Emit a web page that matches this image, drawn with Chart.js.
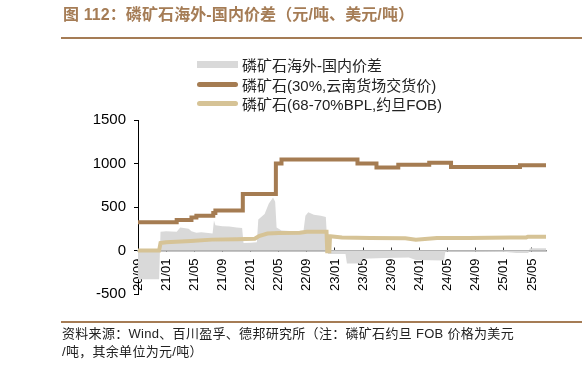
<!DOCTYPE html>
<html>
<head>
<meta charset="utf-8">
<script src="https://cdn.jsdelivr.net/npm/chart.js@4.4.0/dist/chart.umd.min.js"></script>
<style>
  body { margin: 0; width: 582px; height: 372px; position: relative; background: #fff; overflow: hidden;
         font-family: "Liberation Sans", Arial, "Noto Sans CJK SC", sans-serif; }
  #chart { position: absolute; left: 0; top: 0; }
  .title { position: absolute; left: 63px; top: 5px; font-size: 16px; line-height: 20px; font-weight: bold; color: #a57c55; white-space: nowrap; letter-spacing: 0.1px; }
  .rule { position: absolute; left: 61px; right: 0; background: #a57c55; }
  .legend { position: absolute; left: 197px; top: 55px; font-size: 15px; color: #222; }
  .legend div { height: 19.5px; display: flex; align-items: center; white-space: nowrap; }
  .legend i { display: inline-block; width: 41px; margin-right: 4px; border-radius: 3px; }
  .source { position: absolute; left: 62px; top: 325px; font-size: 13px; line-height: 18px; color: #222; white-space: nowrap; letter-spacing: 0.3px; }
</style>
</head>
<body>
<canvas id="chart" width="582" height="372"></canvas>
<div class="title">图 112：磷矿石海外-国内价差（元/吨、美元/吨）</div>
<div class="rule" style="top:37px;height:2px"></div>
<div class="legend">
  <div><i style="height:7px;background:#d9d9d9;border-radius:0"></i>磷矿石海外-国内价差</div>
  <div><i style="height:5px;background:#a57c52"></i>磷矿石(30%,云南货场交货价)</div>
  <div><i style="height:5px;background:#d6c396"></i>磷矿石(68-70%BPL,约旦FOB)</div>
</div>
<div class="rule" style="top:321px;height:1.5px"></div>
<div class="source">资料来源：Wind、百川盈孚、德邦研究所（注：磷矿石约旦 FOB 价格为美元<br>/吨，其余单位为元/吨）</div>
<script>
// x axis ticks every 4 months from 2020/09
const tickLabels = ["20/09", "21/01", "21/05", "21/09", "22/01", "22/05", "22/09", "23/01",
  "23/05", "23/09", "24/01", "24/05", "24/09", "25/01", "25/05"];

// 磷矿石(30%,云南货场交货价), 元/吨 — value holds from each date
const domesticDates = ["2020-09-01", "2021-02-16", "2021-04-19", "2021-05-10", "2021-07-22", "2021-08-01",
  "2021-11-28", "2022-04-19", "2022-05-13", "2023-04-07", "2023-06-28", "2023-10-01", "2024-02-13",
  "2024-05-16", "2025-03-10", "2025-07-01"];
const domesticPrices = [325, 350, 380, 400, 430, 460, 650, 1000, 1045, 1000, 955, 985, 1010, 960, 980, 980];

// 磷矿石(68-70%BPL,约旦FOB), 美元/吨
const jordanDates = ["2020-09-01", "2020-12-01", "2020-12-07", "2021-01-01", "2021-04-16", "2021-07-16",
  "2021-11-01", "2022-01-19", "2022-02-07", "2022-03-13", "2022-05-01", "2022-08-01", "2022-09-01",
  "2022-11-25", "2022-11-28", "2022-12-07", "2022-12-10", "2023-02-01", "2023-06-01", "2023-11-01",
  "2023-12-16", "2024-03-16", "2024-08-01", "2025-02-01", "2025-04-07", "2025-04-14", "2025-07-01"];
const jordanPrices = [0, 0, 85, 95, 110, 125, 130, 135, 165, 195, 200, 205, 215, 215, -10, -10, 165,
  150, 145, 140, 125, 145, 145, 150, 150, 158, 158];

// 磷矿石海外-国内价差, 元/吨
const spreadDates = ["2020-09-01", "2020-12-01", "2020-12-07", "2021-01-01", "2021-02-16", "2021-03-01",
  "2021-03-16", "2021-04-07", "2021-04-19", "2021-05-10", "2021-06-01", "2021-07-01", "2021-07-19",
  "2021-07-25", "2021-08-01", "2021-09-01", "2021-10-01", "2021-11-01", "2021-11-25", "2021-12-01",
  "2022-01-01", "2022-01-28", "2022-02-04", "2022-03-01", "2022-03-19", "2022-04-07", "2022-04-16",
  "2022-04-22", "2022-05-13", "2022-06-16", "2022-07-16", "2022-08-16", "2022-08-25", "2022-09-07",
  "2022-10-01", "2022-11-01", "2022-11-22", "2022-12-01", "2023-02-16", "2023-02-22", "2023-04-22",
  "2023-04-28", "2023-08-01", "2023-11-16", "2023-12-16", "2024-04-16", "2024-04-22", "2024-09-01",
  "2025-01-01", "2025-02-25", "2025-04-16", "2025-04-22", "2025-07-01"];
const spreadValues = [-330, -330, 215, 220, 215, 265, 260, 250, 220, 205, 210, 200, 195, 345, 290, 280,
  275, 265, 260, 85, 90, 95, 355, 420, 540, 610, 560, 265, 230, 225, 215, 210, 400, 440, 410, 400, 385,
  -40, -40, -150, -150, -95, -85, -80, -110, -115, -10, -10, -15, -30, -30, 25, 25];

// months since 2020/09
function monthIndex(d) {
  const p = d.split("-").map(Number);
  return (p[0] - 2020) * 12 + (p[1] - 9) + (p[2] - 1) / 30;
}
function toPoints(dates, values) {
  return dates.map((d, i) => ({ x: monthIndex(d), y: values[i] }));
}

const ctx = document.getElementById("chart").getContext("2d");
new Chart(ctx, {
  type: "line",
  data: {
    datasets: [
      {
        label: "磷矿石(68-70%BPL,约旦FOB)",
        data: toPoints(jordanDates, jordanPrices),
        borderColor: "#d6c396",
        borderWidth: 4,
        pointRadius: 0,
        order: 0,
      },
      {
        label: "磷矿石(30%,云南货场交货价)",
        data: toPoints(domesticDates, domesticPrices),
        borderColor: "#a57c52",
        borderWidth: 4,
        pointRadius: 0,
        stepped: "before",
        order: 1,
      },
      {
        label: "磷矿石海外-国内价差",
        data: toPoints(spreadDates, spreadValues),
        borderWidth: 0,
        backgroundColor: "#d9d9d9",
        fill: "origin",
        pointRadius: 0,
        order: 2,
      },
    ],
  },
  options: {
    responsive: false,
    animation: false,
    layout: { padding: { left: 88, top: 120, right: 36, bottom: 78 } },
    plugins: { legend: { display: false }, tooltip: { enabled: false } },
    scales: {
      x: {
        type: "linear",
        position: { y: 0 },
        min: 0,
        max: 58,
        z: 1,
        border: { color: "#8c8c8c", width: 1.5 },
        grid: { drawOnChartArea: false, tickLength: -4, color: "#333" },
        ticks: {
          stepSize: 4,
          includeBounds: false,
          autoSkip: false,
          minRotation: 90,
          maxRotation: 90,
          padding: 12,
          color: "#000",
          font: { family: "'Liberation Sans', Arial", size: 13 },
          callback: (v) => tickLabels[v / 4],
        },
      },
      y: {
        min: -500,
        max: 1500,
        border: { color: "#000", width: 1 },
        grid: { drawOnChartArea: false, tickLength: 4, color: "#000" },
        ticks: {
          stepSize: 500,
          padding: 8,
          color: "#000",
          font: { family: "'Liberation Sans', Arial", size: 15 },
          callback: (v) => String(v),
        },
        afterFit: (scale) => { scale.width = 50; },
      },
    },
  },
});
</script>
</body>
</html>
